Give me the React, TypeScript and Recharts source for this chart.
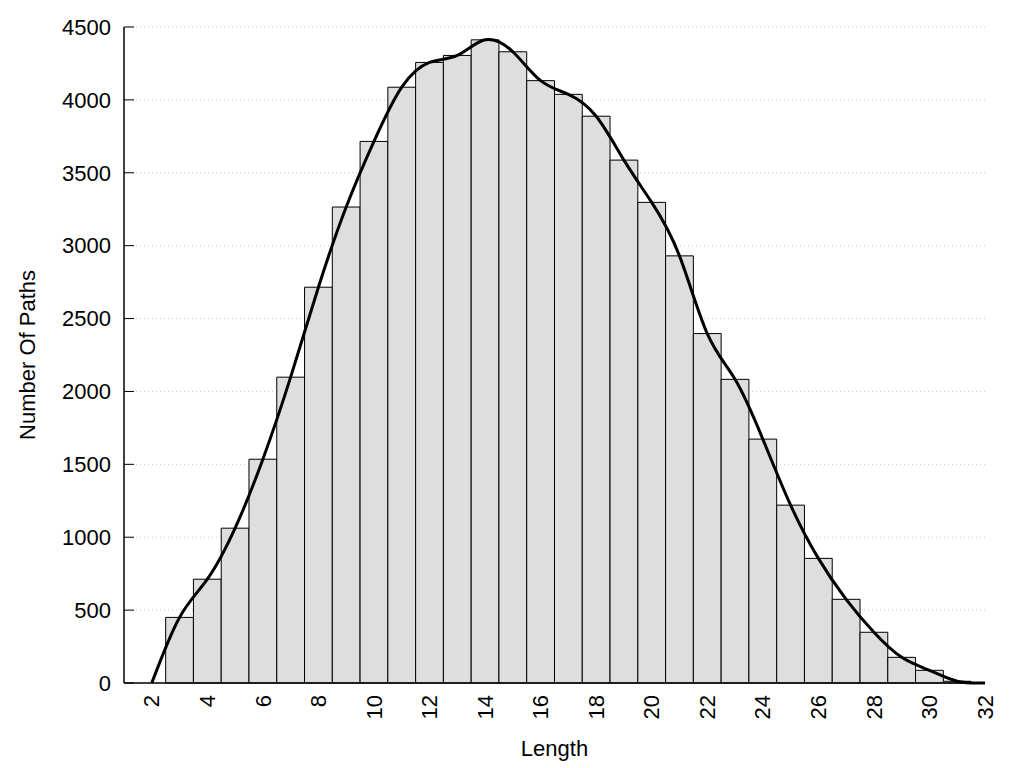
import { ComposedChart, Bar, Line, XAxis, YAxis, CartesianGrid, Label } from 'recharts';

// path lengths 2..32
const lengths = [2, 3, 4, 5, 6, 7, 8, 9, 10, 11, 12, 13, 14, 15, 16, 17, 18, 19, 20, 21, 22, 23, 24, 25, 26, 27, 28, 29, 30, 31, 32];
// histogram counts (null = no bar)
const counts = [null, 450, 712, 1062, 1535, 2098, 2715, 3265, 3715, 4087, 4257, 4305, 4412, 4330, 4132, 4038, 3888, 3587, 3297, 2930, 2397, 2083, 1673, 1220, 855, 574, 348, 176, 87, 12, null];
// smoothed curve through the bar tops
const fit = [0, 450, 712, 1062, 1535, 2098, 2715, 3265, 3715, 4087, 4257, 4305, 4412, 4330, 4132, 4038, 3888, 3587, 3297, 2930, 2397, 2083, 1673, 1220, 855, 574, 348, 176, 87, 12, 0];

const xTicks = [2, 4, 6, 8, 10, 12, 14, 16, 18, 20, 22, 24, 26, 28, 30, 32];
const yTicks = [0, 500, 1000, 1500, 2000, 2500, 3000, 3500, 4000, 4500];

const data = lengths.map((len, i) => ({ len, count: counts[i], fit: fit[i] }));

const W = 1000;
const H = 760;
const M = { top: 19, right: 23, left: 0, bottom: 0 };
const Y_W = 116;
const X_H = 85;
const PLOT_W = W - M.left - M.right - Y_W;
const PLOT_H = H - M.top - M.bottom - X_H;
const FONT = '"Liberation Sans", Arial, sans-serif';

const XTick = (props: any) => {
  const { x, y, payload } = props;
  return (
    <text x={x} y={y} dy="0.35em" textAnchor="end" transform={`rotate(-90, ${x}, ${y})`}
      fontSize={22} fontFamily={FONT} fill="#000">
      {payload.value}
    </text>
  );
};

export default function App() {
  return (
    <div style={{ width: W, height: H, fontFamily: FONT }}>
      <ComposedChart width={W} height={H} data={data} margin={M} barCategoryGap={0} barGap={0}>
        <CartesianGrid vertical={false} stroke="#c8c8c8" strokeDasharray="1 3" />
        <XAxis
          dataKey="len"
          type="number"
          domain={[1, 32]}
          ticks={xTicks}
          allowDataOverflow
          height={X_H}
          tick={<XTick />}
          tickLine={false}
          tickSize={0}
          tickMargin={12}
          axisLine={{ stroke: '#000', strokeWidth: 1.5 }}
        >
          <Label
            content={() => (
              <text x={Y_W + M.left + PLOT_W / 2} y={748} textAnchor="middle" fontSize={22} fontFamily={FONT} fill="#000">
                Length
              </text>
            )}
          />
        </XAxis>
        <XAxis
          xAxisId="top"
          orientation="top"
          dataKey="len"
          type="number"
          domain={[1, 32]}
          height={0}
          tick={false}
          tickLine={false}
          axisLine={{ stroke: '#000', strokeWidth: 1.5 }}
        />
        <YAxis
          domain={[0, 4500]}
          ticks={yTicks}
          width={Y_W}
          tickSize={-10}
          tickMargin={23}
          tick={{ fontSize: 22, fontFamily: FONT, fill: '#000' }}
          tickLine={{ stroke: '#000' }}
          axisLine={{ stroke: '#000', strokeWidth: 1.5 }}
        >
          <Label
            content={() => (
              <text x={19} y={M.top + PLOT_H / 2} textAnchor="middle" dy="0.35em"
                transform={`rotate(-90, 19, ${M.top + PLOT_H / 2})`}
                fontSize={22} fontFamily={FONT} fill="#000">
                Number Of Paths
              </text>
            )}
          />
        </YAxis>
        <YAxis
          yAxisId="right"
          orientation="right"
          domain={[0, 4500]}
          width={0}
          tick={false}
          tickLine={false}
          axisLine={{ stroke: '#000', strokeWidth: 1.5 }}
        />
        <Bar dataKey="count" barSize={PLOT_W / 31 - 0.01} fill="#dedede" stroke="#000" strokeWidth={1} isAnimationActive={false} />
        <Line dataKey="fit" type="natural" stroke="#000" strokeWidth={3} dot={false} activeDot={false} isAnimationActive={false} />
      </ComposedChart>
    </div>
  );
}
